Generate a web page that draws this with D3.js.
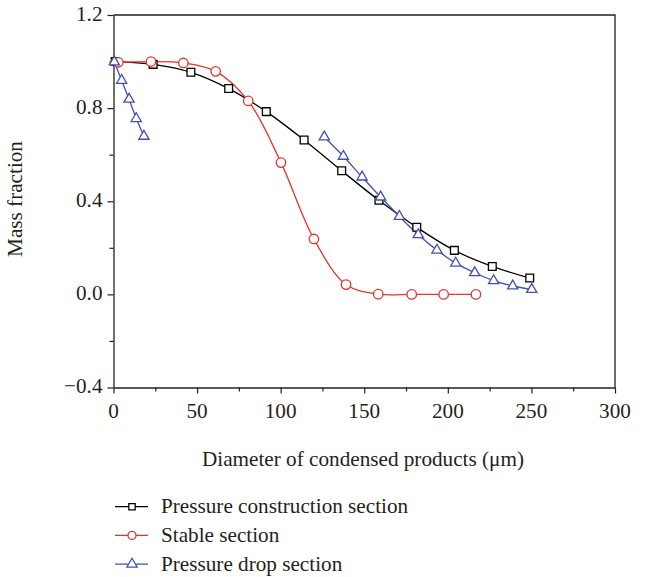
<!DOCTYPE html>
<html>
<head>
<meta charset="utf-8">
<script src="https://cdn.jsdelivr.net/npm/d3@7"></script>
<style>
  body { margin: 0; background: #fff; }
  text { font-family: "Liberation Serif", "DejaVu Serif", serif; fill: #231f20; }
</style>
</head>
<body>
<div id="chart"></div>
<script>
// data
var constrX = [1, 23.7, 46.3, 68.9, 91.4, 114.0, 136.5, 158.8, 181.4, 203.9, 226.6, 249.0];
var constrY = [1.0, 0.988, 0.954, 0.884, 0.785, 0.663, 0.531, 0.404, 0.288, 0.189, 0.120, 0.070];

var stableX = [2.9, 22.4, 41.8, 61.1, 80.6, 100.2, 119.9, 139.1, 158.4, 178.4, 197.5, 216.8];
var stableY = [0.997, 1.0, 0.994, 0.958, 0.831, 0.566, 0.238, 0.042, 0.001, 0.0, 0.0, 0.0];

// pressure drop comes in two separate pieces
var dropX1 = [0.5, 4.9, 9.3, 13.6, 18.2];
var dropY1 = [0.998, 0.919, 0.838, 0.755, 0.679];
var dropX2 = [126.1, 137.5, 148.7, 159.8, 171.0, 182.3, 193.5, 204.7, 216.1, 227.4, 238.8, 250.2];
var dropY2 = [0.676, 0.593, 0.504, 0.418, 0.335, 0.256, 0.190, 0.134, 0.093, 0.059, 0.036, 0.021];

var xTicks = [0, 50, 100, 150, 200, 250, 300];
var yTicks = [-0.4, 0.0, 0.4, 0.8, 1.2];
var legendNames = ["Pressure construction section", "Stable section", "Pressure drop section"];

var W = 654, H = 577;
var pLeft = 113.5, pRight = 615, pTop = 15, pBottom = 387.5;
var fs = 21.2;

var svg = d3.select("#chart").append("svg")
    .attr("width", W)
    .attr("height", H);

var x = d3.scaleLinear().domain([0, 300]).range([pLeft, pRight]);
var y = d3.scaleLinear().domain([-0.4, 1.2]).range([pBottom, pTop]);

function zip(xs, ys) { return xs.map(function(v, i) { return [v, ys[i]]; }); }

var black = "#000000", red = "#e8342b", blue = "#4150b0";

// frame (top and right)
svg.append("path")
    .attr("d", "M" + pLeft + "," + pTop + "H" + pRight + "V" + pBottom)
    .attr("fill", "none").attr("stroke", "#231f20").attr("stroke-width", 1.3);

// axes
var xAxis = svg.append("g").attr("transform", "translate(0," + pBottom + ")");
xAxis.call(d3.axisBottom(x).tickValues(d3.range(0, 301, 25)).tickSize(6).tickFormat("").tickSizeOuter(0));
xAxis.selectAll(".tick line").attr("y2", function(d) { return d % 50 === 0 ? 6 : 4; });
var yAxis = svg.append("g").attr("transform", "translate(" + pLeft + ",0)");
yAxis.call(d3.axisLeft(y).tickValues(d3.range(-0.4, 1.21, 0.2)).tickSize(6).tickFormat("").tickSizeOuter(0));
yAxis.selectAll(".tick line").attr("x2", function(d, i) { return i % 2 === 0 ? -6 : -4; });
svg.selectAll(".domain").attr("stroke", "#231f20").attr("stroke-width", 1.3);
svg.selectAll(".tick line").attr("stroke", "#231f20").attr("stroke-width", 1.2);

// tick labels
svg.selectAll(".xlab").data(xTicks).enter().append("text")
    .attr("x", function(d) { return x(d); })
    .attr("y", pBottom + 30)
    .attr("text-anchor", "middle")
    .attr("font-size", fs)
    .text(function(d) { return d; });
svg.selectAll(".ylab").data(yTicks).enter().append("text")
    .attr("x", pLeft - 11)
    .attr("y", function(d) { return y(d) + 5.5; })
    .attr("text-anchor", "end")
    .attr("font-size", fs)
    .text(function(d) { return d < 0 ? "\u2212" + Math.abs(d).toFixed(1) : d.toFixed(1); });

// axis titles
svg.append("text")
    .attr("x", 363).attr("y", 466)
    .attr("text-anchor", "middle")
    .attr("font-size", fs)
    .text("Diameter of condensed products (\u03bcm)");
svg.append("text")
    .attr("transform", "translate(22,199) rotate(-90)")
    .attr("text-anchor", "middle")
    .attr("font-size", fs)
    .text("Mass fraction");

// lines
var smooth = d3.line().x(function(d) { return x(d[0]); }).y(function(d) { return y(d[1]); })
    .curve(d3.curveCatmullRom);
var straight = d3.line().x(function(d) { return x(d[0]); }).y(function(d) { return y(d[1]); });

var constr = zip(constrX, constrY);
var stable = zip(stableX, stableY);
var drop1 = zip(dropX1, dropY1);
var drop2 = zip(dropX2, dropY2);

svg.append("path").attr("d", smooth(constr)).attr("fill", "none").attr("stroke", black).attr("stroke-width", 1.3);
svg.append("path").attr("d", smooth(stable)).attr("fill", "none").attr("stroke", red).attr("stroke-width", 1.3);
svg.append("path").attr("d", straight(drop1)).attr("fill", "none").attr("stroke", blue).attr("stroke-width", 1.3);
svg.append("path").attr("d", smooth(drop2)).attr("fill", "none").attr("stroke", blue).attr("stroke-width", 1.3);

// markers
var sq = d3.symbol().type(d3.symbolSquare).size(60);
var ci = d3.symbol().type(d3.symbolCircle).size(70);
var tri = d3.symbol().type(d3.symbolTriangle).size(45);

function marks(data, sym, col) {
    svg.append("g").selectAll("path").data(data).enter().append("path")
        .attr("d", sym)
        .attr("transform", function(d) { return "translate(" + x(d[0]) + "," + y(d[1]) + ")"; })
        .attr("fill", "#fff").attr("stroke", col).attr("stroke-width", 1.3);
}
marks(constr, sq, black);
marks(stable, ci, red);
marks(drop1, tri, blue);
marks(drop2, tri, blue);

// legend (markers a bit smaller than in the plot)
var legSyms = [
    d3.symbol().type(d3.symbolSquare).size(40),
    d3.symbol().type(d3.symbolCircle).size(50),
    d3.symbol().type(d3.symbolTriangle).size(45)
];
var legCols = [black, red, blue];
var leg = svg.selectAll(".leg").data(legendNames).enter().append("g")
    .attr("transform", function(d, i) { return "translate(0," + (506.7 + i * 28.7) + ")"; });
leg.append("line").attr("x1", 115).attr("x2", 148).attr("y1", 0).attr("y2", 0)
    .attr("stroke", function(d, i) { return legCols[i]; }).attr("stroke-width", 1.3);
leg.append("path")
    .attr("d", function(d, i) { return legSyms[i](); })
    .attr("transform", "translate(132,0)")
    .attr("fill", "#fff")
    .attr("stroke", function(d, i) { return legCols[i]; }).attr("stroke-width", 1.3);
leg.append("text").attr("x", 161).attr("y", 6.5)
    .attr("font-size", fs)
    .text(function(d) { return d; });
</script>
</body>
</html>
